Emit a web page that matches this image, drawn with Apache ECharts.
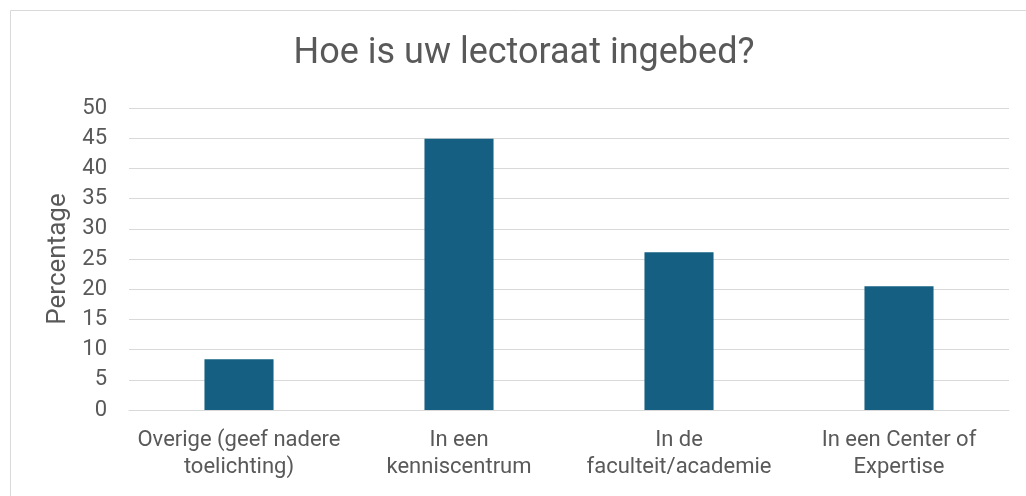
<!DOCTYPE html>
<html><head><meta charset="utf-8">
<script src="https://cdn.jsdelivr.net/npm/echarts@6/dist/echarts.min.js"></script>
<style>html,body{margin:0;padding:0;background:#fff}#c{width:1026px;height:496px}</style>
</head><body><div id="c"></div>
<script>
var categories = ['Overige (geef nadere\ntoelichting)', 'In een\nkenniscentrum', 'In de\nfaculteit/academie', 'In een Center of\nExpertise'];
var values = [8.4, 44.9, 26.1, 20.5];
var title = 'Hoe is uw lectoraat ingebed?';
var yName = 'Percentage';

var FONT = 'Roboto';
var chart = echarts.init(document.getElementById('c'), null, {renderer: 'canvas'});
chart.setOption({
  backgroundColor: '#fff',
  animation: false,
  graphic: [{type: 'rect', shape: {x: 10.5, y: 10.5, width: 1030, height: 500}, style: {fill: 'none', stroke: '#d9d9d9', lineWidth: 1}, z: -1}],
  title: {text: title, left: 519, top: 31, textAlign: 'center',
    textStyle: {fontFamily: FONT, fontWeight: 'normal', fontSize: 36, color: '#595959'}},
  grid: {left: 129, right: 17, top: 108, bottom: 86, containLabel: false},
  xAxis: {type: 'category', data: categories,
    axisLine: {lineStyle: {color: '#d9d9d9'}}, axisTick: {show: false},
    axisLabel: {color: '#595959', fontFamily: FONT, fontSize: 22, lineHeight: 27, margin: 17, interval: 0}},
  yAxis: {type: 'value', min: 0, max: 50, interval: 5,
    name: yName, nameLocation: 'middle', nameGap: 58,
    nameTextStyle: {color: '#595959', fontFamily: FONT, fontSize: 26},
    axisLine: {show: false}, axisTick: {show: false},
    axisLabel: {color: '#595959', fontFamily: FONT, fontSize: 22, margin: 22},
    splitLine: {lineStyle: {color: '#d9d9d9', width: 1}}},
  series: [{type: 'bar', data: values, barWidth: '31.4%', itemStyle: {color: '#156082'}}]
});
</script></body></html>
